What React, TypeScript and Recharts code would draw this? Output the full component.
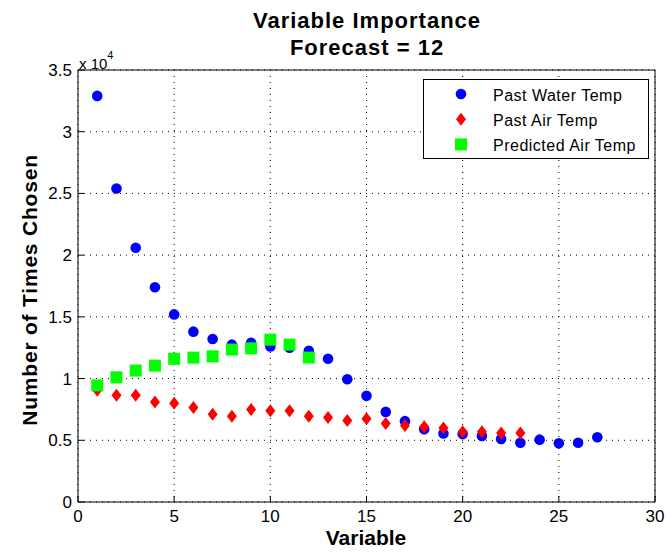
import React from 'react';
import { ScatterChart, Scatter, XAxis, YAxis, CartesianGrid } from 'recharts';

// variable index on the x axis
const VARIABLES = [1, 2, 3, 4, 5, 6, 7, 8, 9, 10, 11, 12, 13, 14, 15, 16, 17, 18, 19, 20, 21, 22, 23, 24, 25, 26, 27];

const PAST_WATER_TEMP = [32900, 25400, 20600, 17400, 15200, 13800, 13200, 12750, 12900, 12600, 12500, 12250, 11600, 9950, 8600, 7300, 6550, 5900, 5550, 5500, 5350, 5100, 4800, 5050, 4750, 4800, 5250];
const PAST_AIR_TEMP = [9050, 8650, 8650, 8100, 8000, 7650, 7100, 6950, 7500, 7400, 7400, 6950, 6850, 6600, 6750, 6350, 6200, 6100, 6000, 5700, 5700, 5600, 5600];
const PREDICTED_AIR_TEMP = [9450, 10100, 10650, 11050, 11600, 11700, 11800, 12350, 12450, 13150, 12750, 11700];

const X_TICKS = [0, 5, 10, 15, 20, 25, 30];
const Y_TICKS = [0, 5000, 10000, 15000, 20000, 25000, 30000, 35000];

const SERIES_NAMES = ['Past Water Temp', 'Past Air Temp', 'Predicted Air Temp'];

const FONT = '"Liberation Sans", Arial, Helvetica, sans-serif';

const toPoints = (values: number[]) => values.map((v, i) => ({ x: VARIABLES[i], y: v }));

const Dot = ({ cx, cy }: any) => <circle cx={cx} cy={cy} r={5.3} fill="#0000ff" />;
const Diamond = ({ cx, cy }: any) => (
  <polygon points={`${cx},${cy - 6.5} ${cx + 5},${cy} ${cx},${cy + 6.5} ${cx - 5},${cy}`} fill="#ff0000" />
);
const Square = ({ cx, cy }: any) => <rect x={cx - 6} y={cy - 6} width={12} height={12} fill="#00ff00" />;

const BottomTick = ({ x, y, payload }: any) => (
  <g>
    <line x1={x} x2={x} y1={y} y2={y - 6} stroke="#000" />
    <text x={x} y={y + 20} textAnchor="middle" fontSize={17} fontFamily={FONT} fill="#000">{payload.value}</text>
  </g>
);
const TopTick = ({ x, y }: any) => <line x1={x} x2={x} y1={y} y2={y + 6} stroke="#000" />;
const LeftTick = ({ x, y, payload }: any) => (
  <g>
    <line x1={x} x2={x + 6} y1={y} y2={y} stroke="#000" />
    <text x={x - 6} y={y + 6} textAnchor="end" fontSize={17} fontFamily={FONT} fill="#000">{payload.value / 10000}</text>
  </g>
);
const RightTick = ({ x, y }: any) => <line x1={x} x2={x - 6} y1={y} y2={y} stroke="#000" />;

export default function App() {
  const legendShapes = [Dot, Diamond, Square];
  return (
    <div style={{ position: 'absolute', left: 0, top: 0, width: 667, height: 553, background: '#fff' }}>
      <ScatterChart width={667} height={553} margin={{ top: 69, right: 0, bottom: 0, left: 0 }}>
        <CartesianGrid strokeDasharray="1 5" stroke="#000" />
        <XAxis dataKey="x" type="number" domain={[0, 30]} ticks={X_TICKS} height={51} tickSize={0} tickMargin={0}
          tickLine={false} stroke="#000" tick={<BottomTick />} />
        <XAxis xAxisId="top" orientation="top" type="number" domain={[0, 30]} ticks={X_TICKS} height={1} tickSize={0}
          tickMargin={0} tickLine={false} stroke="#000" tick={<TopTick />} />
        <YAxis dataKey="y" type="number" domain={[0, 35000]} ticks={Y_TICKS} width={78} tickSize={0} tickMargin={0}
          tickLine={false} stroke="#000" tick={<LeftTick />} />
        <YAxis yAxisId="right" orientation="right" type="number" domain={[0, 35000]} ticks={Y_TICKS} width={12}
          tickSize={0} tickMargin={0} tickLine={false} stroke="#000" tick={<RightTick />} />
        <Scatter name={SERIES_NAMES[0]} data={toPoints(PAST_WATER_TEMP)} shape={<Dot />} isAnimationActive={false} />
        <Scatter name={SERIES_NAMES[1]} data={toPoints(PAST_AIR_TEMP)} shape={<Diamond />} isAnimationActive={false} />
        <Scatter name={SERIES_NAMES[2]} data={toPoints(PREDICTED_AIR_TEMP)} shape={<Square />} isAnimationActive={false} />
      </ScatterChart>

      {/* titles, axis labels and legend */}
      <svg width={667} height={553} style={{ position: 'absolute', left: 0, top: 0, pointerEvents: 'none' }} fontFamily={FONT}>
        <text x={367} y={28} textAnchor="middle" fontSize={22} fontWeight="bold" letterSpacing={1}>Variable Importance</text>
        <text x={367} y={55} textAnchor="middle" fontSize={22} fontWeight="bold" letterSpacing={1}>Forecast = 12</text>
        <text x={79} y={69} fontSize={15}>x 10<tspan dy={-10} fontSize={11}>4</tspan></text>
        <text x={366} y={545} textAnchor="middle" fontSize={21} fontWeight="bold">Variable</text>
        <text transform="translate(37,290) rotate(-90)" textAnchor="middle" fontSize={21} fontWeight="bold" letterSpacing={0.8}>
          Number of Times Chosen
        </text>
        <rect x={423.5} y={79.5} width={225} height={79} fill="#fff" stroke="#000" />
        {SERIES_NAMES.map((name, i) => {
          const Shape = legendShapes[i];
          const cy = 94 + i * 25.2;
          return (
            <g key={name}>
              <Shape cx={461} cy={cy} />
              <text x={493} y={cy + 7} fontSize={16} letterSpacing={0.5}>{name}</text>
            </g>
          );
        })}
      </svg>
    </div>
  );
}
